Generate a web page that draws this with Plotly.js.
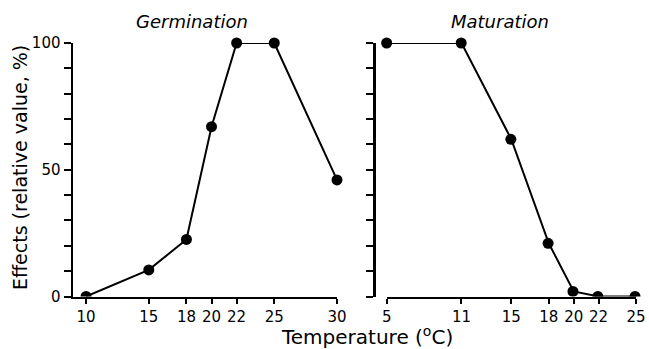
<!DOCTYPE html>
<html><head><meta charset="utf-8">
<script src="https://cdn.plot.ly/plotly-3.0.1.min.js"></script>
<style>html,body{margin:0;padding:0;background:#fff}</style>
</head><body><div id="chart" style="width:649px;height:349px"></div>
<script>
// ---- data ----
const germTemp = [10, 15, 18, 20, 22, 25, 30];
const germEffect = [0, 10.5, 22.5, 67, 100, 100, 46];
const matTemp = [5, 11, 15, 18, 20, 22, 25];
const matEffect = [100, 100, 62, 21, 2, 0, 0];
const germTicks = [10, 15, 18, 20, 22, 25, 30];
const matTicks = [5, 11, 15, 18, 20, 22, 25];
const yTicks = [0, 10, 20, 30, 40, 50, 60, 70, 80, 90, 100];
const yTickLabels = ['0', '', '', '', '', '50', '', '', '', '', '100'];
const germTitle = 'Germination';
const matTitle = 'Maturation';
const xTitle = 'Temperature (<sup>o</sup>C)';
const yTitle = 'Effects (relative value, %)';

// ---- geometry (pixels) ----
const W = 649, H = 349;
const px = v => v / W, py = v => (H - v) / H;
const yTop = 43, yBot = 296.5;
const L = {p0: 73, p1: 337, r: [8.96, 30]};
const R = {p0: 386.7, p1: 636, r: [5, 25], axis: 374};
const pad = 14;
function extRange(P, padPx) {
  const s = (P.r[1] - P.r[0]) / (P.p1 - P.p0);
  return [P.r[0] - padPx * s, P.r[1] + padPx * s];
}
const yExtTop = 100 + pad * 100 / (yBot - yTop);

const FONT = 'DejaVu Sans';
const axisBase = {
  showline: true, linecolor: '#000', linewidth: 2.5,
  ticks: 'outside', tickwidth: 2, tickcolor: '#000',
  showgrid: false, zeroline: false, fixedrange: true,
  tickfont: {family: FONT, size: 15, color: '#000'}
};
const hidden = {visible: false, showgrid: false, zeroline: false, fixedrange: true};

const lineStyle = {mode: 'lines', cliponaxis: false, showlegend: false, hoverinfo: 'skip',
  line: {color: '#000', width: 2}};
const markerStyle = {mode: 'markers', cliponaxis: true, showlegend: false, hoverinfo: 'skip',
  marker: {color: '#000', size: 11}};

const data = [
  Object.assign({x: germTemp, y: germEffect, xaxis: 'x', yaxis: 'y'}, lineStyle),
  Object.assign({x: matTemp, y: matEffect, xaxis: 'x2', yaxis: 'y2'}, lineStyle),
  Object.assign({x: germTemp, y: germEffect, xaxis: 'x3', yaxis: 'y3'}, markerStyle),
  Object.assign({x: matTemp, y: matEffect, xaxis: 'x4', yaxis: 'y4'}, markerStyle)
];

const layout = {
  width: W, height: H,
  margin: {l: 0, r: 0, t: 0, b: 0},
  paper_bgcolor: '#fff', plot_bgcolor: 'rgba(0,0,0,0)',
  showlegend: false,
  xaxis: Object.assign({}, axisBase, {
    domain: [px(L.p0), px(L.p1)], range: L.r, anchor: 'y', ticklen: 5,
    tickmode: 'array', tickvals: germTicks, ticktext: germTicks.map(String)
  }),
  yaxis: Object.assign({}, axisBase, {
    domain: [py(yBot), py(yTop)], range: [0, 100], anchor: 'x', ticklen: 7,
    tickmode: 'array', tickvals: yTicks, ticktext: yTickLabels
  }),
  xaxis2: Object.assign({}, axisBase, {
    domain: [px(R.p0), px(R.p1)], range: R.r, anchor: 'y2', ticklen: 5,
    tickmode: 'array', tickvals: matTicks, ticktext: matTicks.map(String)
  }),
  yaxis2: Object.assign({}, axisBase, {
    domain: [py(yBot), py(yTop)], range: [0, 100], anchor: 'free', position: px(R.axis),
    ticklen: 7, tickmode: 'array', tickvals: yTicks, showticklabels: false
  }),
  xaxis3: Object.assign({}, hidden, {domain: [px(L.p0 - pad), px(L.p1 + pad)], range: extRange(L, pad), anchor: 'y3'}),
  yaxis3: Object.assign({}, hidden, {domain: [py(yBot), py(yTop - pad)], range: [0, yExtTop], anchor: 'x3'}),
  xaxis4: Object.assign({}, hidden, {domain: [px(R.p0 - pad), px(R.p1 + pad)], range: extRange(R, pad), anchor: 'y4'}),
  yaxis4: Object.assign({}, hidden, {domain: [py(yBot), py(yTop - pad)], range: [0, yExtTop], anchor: 'x4'}),
  annotations: [
    {text: germTitle, xref: 'paper', yref: 'paper', x: px(192), y: py(22), xanchor: 'center', yanchor: 'middle',
     showarrow: false, font: {family: FONT, size: 18, color: '#000', style: 'italic'}},
    {text: matTitle, xref: 'paper', yref: 'paper', x: px(500), y: py(22), xanchor: 'center', yanchor: 'middle',
     showarrow: false, font: {family: FONT, size: 18, color: '#000', style: 'italic'}},
    {text: xTitle, xref: 'paper', yref: 'paper', x: px(367), y: py(336), xanchor: 'center', yanchor: 'middle',
     showarrow: false, font: {family: FONT, size: 20, color: '#000'}},
    {text: yTitle, xref: 'paper', yref: 'paper', x: px(20), y: py(168), xanchor: 'center', yanchor: 'middle',
     textangle: -90, showarrow: false, font: {family: FONT, size: 19, color: '#000'}}
  ]
};

Plotly.newPlot('chart', data, layout, {staticPlot: true, displayModeBar: false});
</script>
</body></html>
